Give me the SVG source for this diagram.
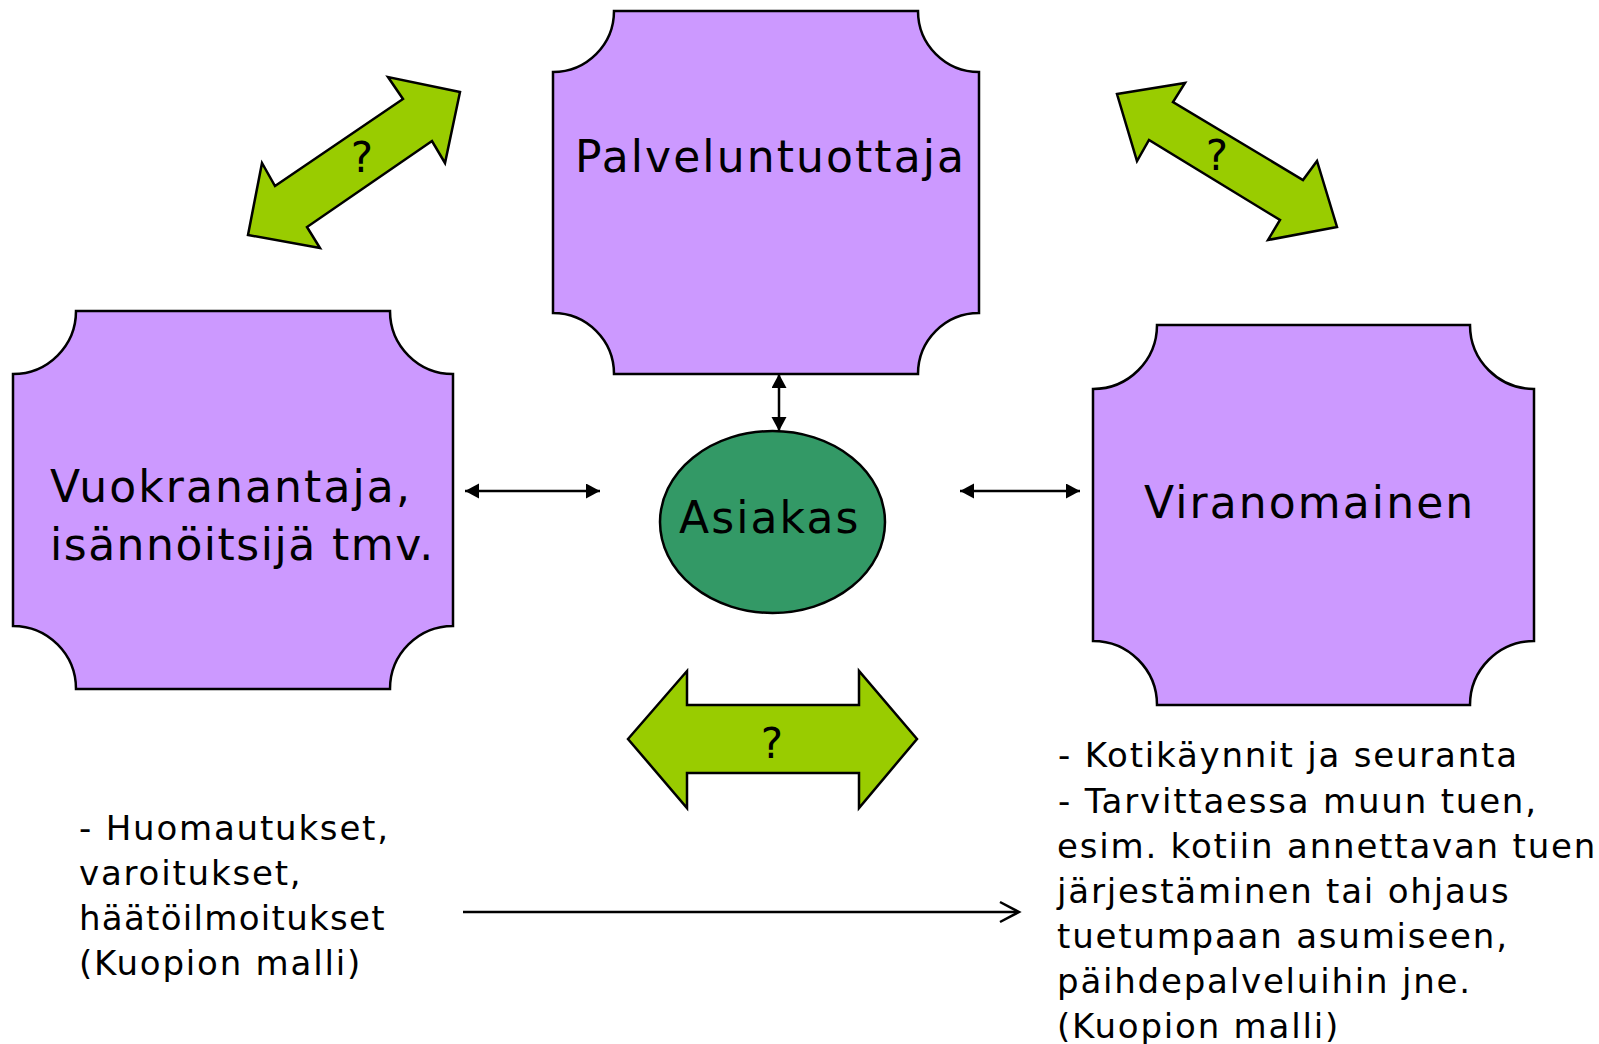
<svg xmlns="http://www.w3.org/2000/svg" width="1599" height="1044" viewBox="0 0 1599 1044">
<style>
.box{fill:#CC99FF;stroke:#000;stroke-width:2.5;stroke-linejoin:miter}
.big{fill:#99CC00;stroke:#000;stroke-width:2.5;stroke-linejoin:miter}
.lbl{font-family:"DejaVu Sans","Liberation Sans",sans-serif;font-size:44px;letter-spacing:2.1px;fill:#000}
.q{font-family:"DejaVu Sans","Liberation Sans",sans-serif;font-size:42px;fill:#000;text-anchor:middle}
.note{font-family:"DejaVu Sans","Liberation Sans",sans-serif;font-size:34px;letter-spacing:1.8px;fill:#000}
.con{stroke:#000;stroke-width:2.5;fill:none}
</style>
<defs>
<marker id="ah" markerUnits="userSpaceOnUse" markerWidth="15" markerHeight="16" refX="14" refY="7.5" orient="auto-start-reverse">
<path d="M0,0 L14,7.5 L0,15 Z" fill="#000"/>
</marker>
</defs>
<rect width="1599" height="1044" fill="#fff"/>
<g id="arrow-left-top">
<polygon class="big" points="460,92 388,77 403,99 275,186 262,163 248,235 320,248 307,227 432,141 445,163"/>
<text class="q" x="362" y="172">?</text>
</g>
<g id="arrow-right-top">
<polygon class="big" points="1117,94 1185,83 1173,102 1303,180 1317,161 1337,227 1268,240 1280,220 1149,140 1137,161"/>
<text class="q" x="1217" y="170">?</text>
</g>
<g id="arrow-bottom">
<polygon class="big" points="628,739 687,671 687,705 859,705 859,671 917,739 859,808 859,773 687,773 687,808"/>
<text class="q" x="772" y="758">?</text>
</g>
<g id="palveluntuottaja">
<path class="box" d="M614,11 L918,11 A61,61 0 0 0 979,72 L979,313 A61,61 0 0 0 918,374 L614,374 A61,61 0 0 0 553,313 L553,72 A61,61 0 0 0 614,11 Z"/>
<text class="lbl" x="575" y="172">Palveluntuottaja</text>
</g>
<g id="vuokranantaja">
<path class="box" d="M76,311 L390,311 A63,63 0 0 0 453,374 L453,626 A63,63 0 0 0 390,689 L76,689 A63,63 0 0 0 13,626 L13,374 A63,63 0 0 0 76,311 Z"/>
<text class="lbl" x="50" y="502">Vuokranantaja,</text>
<text class="lbl" x="50" y="560" style="letter-spacing:1.5px">isännöitsijä tmv.</text>
</g>
<g id="viranomainen">
<path class="box" d="M1157,325 L1470,325 A64,64 0 0 0 1534,389 L1534,641 A64,64 0 0 0 1470,705 L1157,705 A64,64 0 0 0 1093,641 L1093,389 A64,64 0 0 0 1157,325 Z"/>
<text class="lbl" x="1144" y="518">Viranomainen</text>
</g>
<g id="asiakas">
<ellipse cx="772.5" cy="522" rx="112.5" ry="91" fill="#339966" stroke="#000" stroke-width="2.5"/>
<text class="lbl" x="679" y="533">Asiakas</text>
</g>
<g id="connectors">
<line class="con" x1="779" y1="374" x2="779" y2="431" marker-start="url(#ah)" marker-end="url(#ah)"/>
<line class="con" x1="465" y1="491" x2="600" y2="491" marker-start="url(#ah)" marker-end="url(#ah)"/>
<line class="con" x1="960" y1="491" x2="1080" y2="491" marker-start="url(#ah)" marker-end="url(#ah)"/>
<line class="con" x1="463" y1="912" x2="1018" y2="912"/>
<path class="con" d="M1000,902 L1019,912 L1000,922"/>
</g>
<g id="note-left">
<text class="note" x="79" y="840">- Huomautukset,</text>
<text class="note" x="79" y="885">varoitukset,</text>
<text class="note" x="79" y="930" style="letter-spacing:1.3px">häätöilmoitukset</text>
<text class="note" x="79" y="975">(Kuopion malli)</text>
</g>
<g id="note-right">
<text class="note" x="1058" y="767">- Kotikäynnit ja seuranta</text>
<text class="note" x="1058" y="813">- Tarvittaessa muun tuen,</text>
<text class="note" x="1057" y="858">esim. kotiin annettavan tuen</text>
<text class="note" x="1057" y="903">järjestäminen tai ohjaus</text>
<text class="note" x="1057" y="948">tuetumpaan asumiseen,</text>
<text class="note" x="1057" y="993">päihdepalveluihin jne.</text>
<text class="note" x="1057" y="1038">(Kuopion malli)</text>
</g>
</svg>
